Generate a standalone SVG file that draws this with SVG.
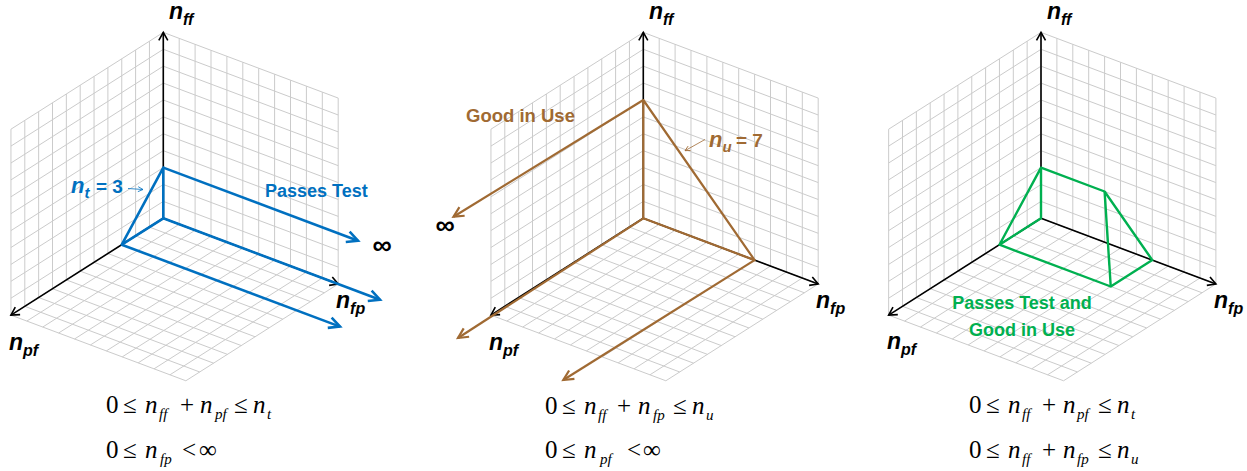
<svg xmlns="http://www.w3.org/2000/svg" xmlns:xlink="http://www.w3.org/1999/xlink" width="1247" height="471" viewBox="0 0 1247 471">
<style>
.grid{fill:none;stroke:#cbcbcb;stroke-width:1;vector-effect:non-scaling-stroke}
.axis{fill:none;stroke:#000;stroke-width:1.6;marker-end:url(#ak)}
.blue{fill:none;stroke:#0070C0;stroke-width:2.6;stroke-linejoin:round}
.blueA{fill:none;stroke:#0070C0;stroke-width:2.6;marker-end:url(#abl)}
.brown{fill:none;stroke:#A06A33;stroke-width:2.2;stroke-linejoin:round}
.brownA{fill:none;stroke:#A06A33;stroke-width:2.2;marker-end:url(#abr)}
.green{fill:none;stroke:#00B050;stroke-width:2.4;stroke-linejoin:round}
.thinB{fill:none;stroke:#0070C0;stroke-width:0.8;marker-end:url(#atb)}
.thinR{fill:none;stroke:#A06A33;stroke-width:0.8;marker-end:url(#atr)}
.lbl{font-family:"Liberation Sans",Arial,sans-serif;font-weight:bold}
.ax{font-size:23px;font-style:italic;fill:#000}
.sub{font-size:16px}
.inf{font-size:27px}
.math{font-family:"Liberation Serif","Times New Roman",serif;font-size:25px;fill:#000}
.mi{font-style:italic}
.ms{font-style:italic;font-size:15px}
</style>
<defs>
<path id="g" class="grid" d="M0 0H11M0 1H11M0 2H11M0 3H11M0 4H11M0 5H11M0 6H11M0 7H11M0 8H11M0 9H11M0 10H11M0 11H11M0 0V11M1 0V11M2 0V11M3 0V11M4 0V11M5 0V11M6 0V11M7 0V11M8 0V11M9 0V11M10 0V11M11 0V11"/>
<marker id="ak" markerUnits="userSpaceOnUse" orient="auto" overflow="visible" markerWidth="1" markerHeight="1"><path d="M-8,-4.5L0,0L-8,4.5" fill="none" stroke="#000" stroke-width="1.6"/></marker>
<marker id="abl" markerUnits="userSpaceOnUse" orient="auto" overflow="visible" markerWidth="1" markerHeight="1"><path d="M-11,-5.5L0,0L-11,5.5" fill="none" stroke="#0070C0" stroke-width="2.6"/></marker>
<marker id="abr" markerUnits="userSpaceOnUse" orient="auto" overflow="visible" markerWidth="1" markerHeight="1"><path d="M-10,-5L0,0L-10,5" fill="none" stroke="#A06A33" stroke-width="2.2"/></marker>
<marker id="atb" markerUnits="userSpaceOnUse" orient="auto" overflow="visible" markerWidth="1" markerHeight="1"><path d="M-5,-2.5L0,0L-5,2.5" fill="none" stroke="#0070C0" stroke-width="0.8"/></marker>
<marker id="atr" markerUnits="userSpaceOnUse" orient="auto" overflow="visible" markerWidth="1" markerHeight="1"><path d="M-5,-2.5L0,0L-5,2.5" fill="none" stroke="#A06A33" stroke-width="0.8"/></marker>
</defs>

<!-- Panel 1 -->
<g id="panel1">
  <g id="p1-grid">
    <use href="#g" xlink:href="#g" transform="matrix(-13.85 8.8 0 -16.9 163.3 218.3)"/>
    <use href="#g" xlink:href="#g" transform="matrix(15.9 5.97 0 -16.9 163.3 218.3)"/>
    <use href="#g" xlink:href="#g" transform="matrix(-13.85 8.8 15.9 5.97 163.3 218.3)"/>
  </g>
  <g id="p1-axes">
    <path class="axis" d="M163.3 218.3V32.4"/>
    <path class="axis" d="M163.3 218.3L10.95 315.1"/>
    <path class="axis" d="M163.3 218.3L338.2 284"/>
  </g>
  <g id="p1-connectors">
    <path class="blue" d="M163.3 218.3V167.6L121.75 244.7Z"/>
    <path class="blueA" d="M163.3 167.6L358 240.7"/>
    <path class="blueA" d="M163.3 218.3L380 299.7"/>
    <path class="blueA" d="M121.75 244.7L340 326.6"/>
    <path class="thinB" d="M128 188.5L143 189.5"/>
  </g>
  <g id="p1-labels" class="lbl">
    <text class="ax" x="169" y="19">n<tspan class="sub" dy="6">ff</tspan></text>
    <text class="ax" x="9" y="350">n<tspan class="sub" dy="6">pf</tspan></text>
    <text class="ax" x="336" y="308">n<tspan class="sub" dy="6">fp</tspan></text>
    <text class="inf" x="382" y="254" text-anchor="middle">∞</text>
    <text x="265" y="197" font-size="18" fill="#0070C0">Passes Test</text>
    <text x="71" y="193" fill="#0070C0"><tspan font-size="22" font-style="italic">n</tspan><tspan font-size="15" font-style="italic" dy="5">t</tspan><tspan font-size="19" x="96" dy="-5">= 3</tspan></text>
  </g>
  <g id="p1-eq" class="math">
    <text y="413"><tspan x="106">0</tspan><tspan x="123">≤</tspan><tspan class="mi" x="145">n</tspan><tspan class="ms" x="159" y="419">ff</tspan><tspan x="180" y="413">+</tspan><tspan class="mi" x="200">n</tspan><tspan class="ms" x="215" y="419">pf</tspan><tspan x="234" y="413">≤</tspan><tspan class="mi" x="253">n</tspan><tspan class="ms" x="267" y="419">t</tspan></text>
    <text y="458"><tspan x="106">0</tspan><tspan x="123">≤</tspan><tspan class="mi" x="145">n</tspan><tspan class="ms" x="160" y="464">fp</tspan><tspan x="182" y="458">&lt;</tspan><tspan x="199">∞</tspan></text>
  </g>
</g>

<!-- Panel 2 -->
<g id="panel2">
  <g id="p2-grid">
    <use href="#g" xlink:href="#g" transform="matrix(-13.85 8.8 0 -16.9 643.3 218.3)"/>
    <use href="#g" xlink:href="#g" transform="matrix(15.9 5.97 0 -16.9 643.3 218.3)"/>
    <use href="#g" xlink:href="#g" transform="matrix(-13.85 8.8 15.9 5.97 643.3 218.3)"/>
  </g>
  <g id="p2-axes">
    <path class="axis" d="M643.3 218.3V32.4"/>
    <path class="axis" d="M643.3 218.3L490.95 315.1"/>
    <path class="axis" d="M643.3 218.3L818.2 284"/>
  </g>
  <g id="p2-connectors">
    <path class="brown" d="M643.3 218.3V100L754.6 260.1Z"/>
    <path class="brownA" d="M643.3 100L453.5 216.7"/>
    <path class="brownA" d="M643.3 218.3L458 338"/>
    <path class="brownA" d="M754.6 260.1L563.3 380"/>
    <path class="thinR" d="M705 139.5L685 150.7"/>
  </g>
  <g id="p2-labels" class="lbl">
    <text class="ax" x="649" y="19">n<tspan class="sub" dy="6">ff</tspan></text>
    <text class="ax" x="489" y="350">n<tspan class="sub" dy="6">pf</tspan></text>
    <text class="ax" x="816" y="308">n<tspan class="sub" dy="6">fp</tspan></text>
    <text class="inf" x="445" y="234" text-anchor="middle">∞</text>
    <text x="466" y="121.5" font-size="18.5" fill="#A06A33">Good in Use</text>
    <text x="709" y="147" fill="#A06A33"><tspan font-size="22" font-style="italic">n</tspan><tspan font-size="15" font-style="italic" dy="5">u</tspan><tspan font-size="19" x="736" dy="-5">= 7</tspan></text>
  </g>
  <g id="p2-eq" class="math">
    <text y="414"><tspan x="545">0</tspan><tspan x="562">≤</tspan><tspan class="mi" x="584">n</tspan><tspan class="ms" x="598" y="420">ff</tspan><tspan x="617" y="414">+</tspan><tspan class="mi" x="638">n</tspan><tspan class="ms" x="653" y="420">fp</tspan><tspan x="673" y="414">≤</tspan><tspan class="mi" x="692">n</tspan><tspan class="ms" x="706" y="420">u</tspan></text>
    <text y="458"><tspan x="545">0</tspan><tspan x="562">≤</tspan><tspan class="mi" x="584">n</tspan><tspan class="ms" x="600" y="464">pf</tspan><tspan x="627" y="458">&lt;</tspan><tspan x="643">∞</tspan></text>
  </g>
</g>

<!-- Panel 3 -->
<g id="panel3">
  <g id="p3-grid">
    <use href="#g" xlink:href="#g" transform="matrix(-13.85 8.8 0 -16.9 1041 218.3)"/>
    <use href="#g" xlink:href="#g" transform="matrix(15.9 5.97 0 -16.9 1041 218.3)"/>
    <use href="#g" xlink:href="#g" transform="matrix(-13.85 8.8 15.9 5.97 1041 218.3)"/>
  </g>
  <g id="p3-axes">
    <path class="axis" d="M1041 218.3V32.4"/>
    <path class="axis" d="M1041 218.3L888.65 315.1"/>
    <path class="axis" d="M1041 218.3L1215.9 284"/>
  </g>
  <g id="p3-connectors">
    <path class="green" d="M1041 218.3V167.6L999.45 244.7Z"/>
    <path class="green" d="M1041 167.6L1104.6 191.5L1152.3 260.1L1110.75 286.5L999.45 244.7"/>
    <path class="green" d="M1104.6 191.5L1110.75 286.5"/>
  </g>
  <g id="p3-labels" class="lbl">
    <text class="ax" x="1047" y="19">n<tspan class="sub" dy="6">ff</tspan></text>
    <text class="ax" x="887" y="349">n<tspan class="sub" dy="6">pf</tspan></text>
    <text class="ax" x="1214" y="308">n<tspan class="sub" dy="6">fp</tspan></text>
    <text x="1022" y="309" font-size="18" fill="#00B050" text-anchor="middle">Passes Test and</text>
    <text x="1022" y="335.5" font-size="18" fill="#00B050" text-anchor="middle">Good in Use</text>
  </g>
  <g id="p3-eq" class="math">
    <text y="413"><tspan x="969">0</tspan><tspan x="986">≤</tspan><tspan class="mi" x="1008">n</tspan><tspan class="ms" x="1022" y="419">ff</tspan><tspan x="1042" y="413">+</tspan><tspan class="mi" x="1063">n</tspan><tspan class="ms" x="1077" y="419">pf</tspan><tspan x="1098" y="413">≤</tspan><tspan class="mi" x="1117">n</tspan><tspan class="ms" x="1131" y="419">t</tspan></text>
    <text y="458"><tspan x="969">0</tspan><tspan x="986">≤</tspan><tspan class="mi" x="1008">n</tspan><tspan class="ms" x="1022" y="464">ff</tspan><tspan x="1042" y="458">+</tspan><tspan class="mi" x="1063">n</tspan><tspan class="ms" x="1077" y="464">fp</tspan><tspan x="1098" y="458">≤</tspan><tspan class="mi" x="1117">n</tspan><tspan class="ms" x="1131" y="464">u</tspan></text>
  </g>
</g>
</svg>
